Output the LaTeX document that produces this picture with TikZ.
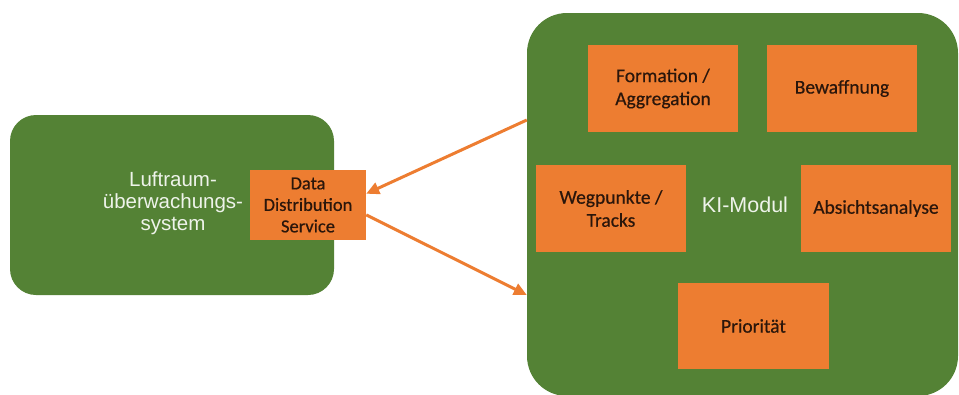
\documentclass[tikz,border=0pt]{standalone}
\usepackage{fontspec}
\setmainfont{Carlito}
\newfontfamily\boxfont{Carlito}[BoldFont=Carlito, BoldFeatures={FakeBold=0.5}]
\newfontfamily\labelfont{Liberation Sans}
\usetikzlibrary{arrows.meta,calc}

\definecolor{modgreen}{HTML}{548235}
\definecolor{modorange}{HTML}{ED7D31}
\definecolor{boxtext}{HTML}{2A160B}
\definecolor{lighttext}{HTML}{EEF3EA}

\tikzset{
  greenbox/.style={fill=modgreen, draw=none, rounded corners=#1},
  orangebox/.style={fill=modorange, draw=none, minimum width=150pt, minimum height=87pt,
    text=boxtext, align=center, font=\boxfont\bfseries\fontsize{19.5}{23}\selectfont, inner sep=0pt},
  whitelabel/.style={text=lighttext, align=center, inner sep=0pt},
  flow/.style={draw=modorange, line width=3pt, -{Triangle[length=13pt,width=12pt]}}
}

\begin{document}
\begin{tikzpicture}[x=1pt, y=-1pt]
  \useasboundingbox (0,0) rectangle (959,394);
  \clip (0,0) rectangle (959,394);

  % airspace surveillance system
  \node[greenbox=26pt, minimum width=324pt, minimum height=180pt] (sys) at (172,205) {};
  \node[whitelabel, font=\labelfont\fontsize{20.5}{22}\selectfont] (systxt) at (173,203)
    {Luftraum-\\überwachungs-\\system};
  \node[orangebox, minimum width=116pt, minimum height=70pt,
        font=\boxfont\bfseries\fontsize{18.5}{21.5}\selectfont] (dds) at (308,205)
    {Data\\Distribution\\Service};

  % AI module with its components
  \node[greenbox=40pt, minimum width=431pt, minimum height=383pt] (ki) at (742.5,204.5) {};
  \node[whitelabel, font=\labelfont\fontsize{21.5}{24}\selectfont] (kitxt) at (745,205) {KI-Modul};
  \node[orangebox] (form) at (663,88.5) {Formation /\\Aggregation};
  \node[orangebox] (bew)  at (842,88.5) {Bewaffnung};
  \node[orangebox] (weg)  at (611,208.5) {Wegpunkte /\\Tracks};
  \node[orangebox] (abs)  at (876,208.5) {Absichtsanalyse};
  \node[orangebox, minimum width=151pt, minimum height=86pt] (prio) at (753.5,326) {Priorität};

  % data exchange
  \coordinate (kiout) at (ki.west |- 0,120);
  \coordinate (kiin)  at (ki.west |- 0,295);
  \draw[flow] (kiout) -- ($(dds.north east)!0.34!(dds.south east)$);
  \draw[flow] ($(dds.north east)!0.64!(dds.south east)$) -- (kiin);
\end{tikzpicture}
\end{document}
